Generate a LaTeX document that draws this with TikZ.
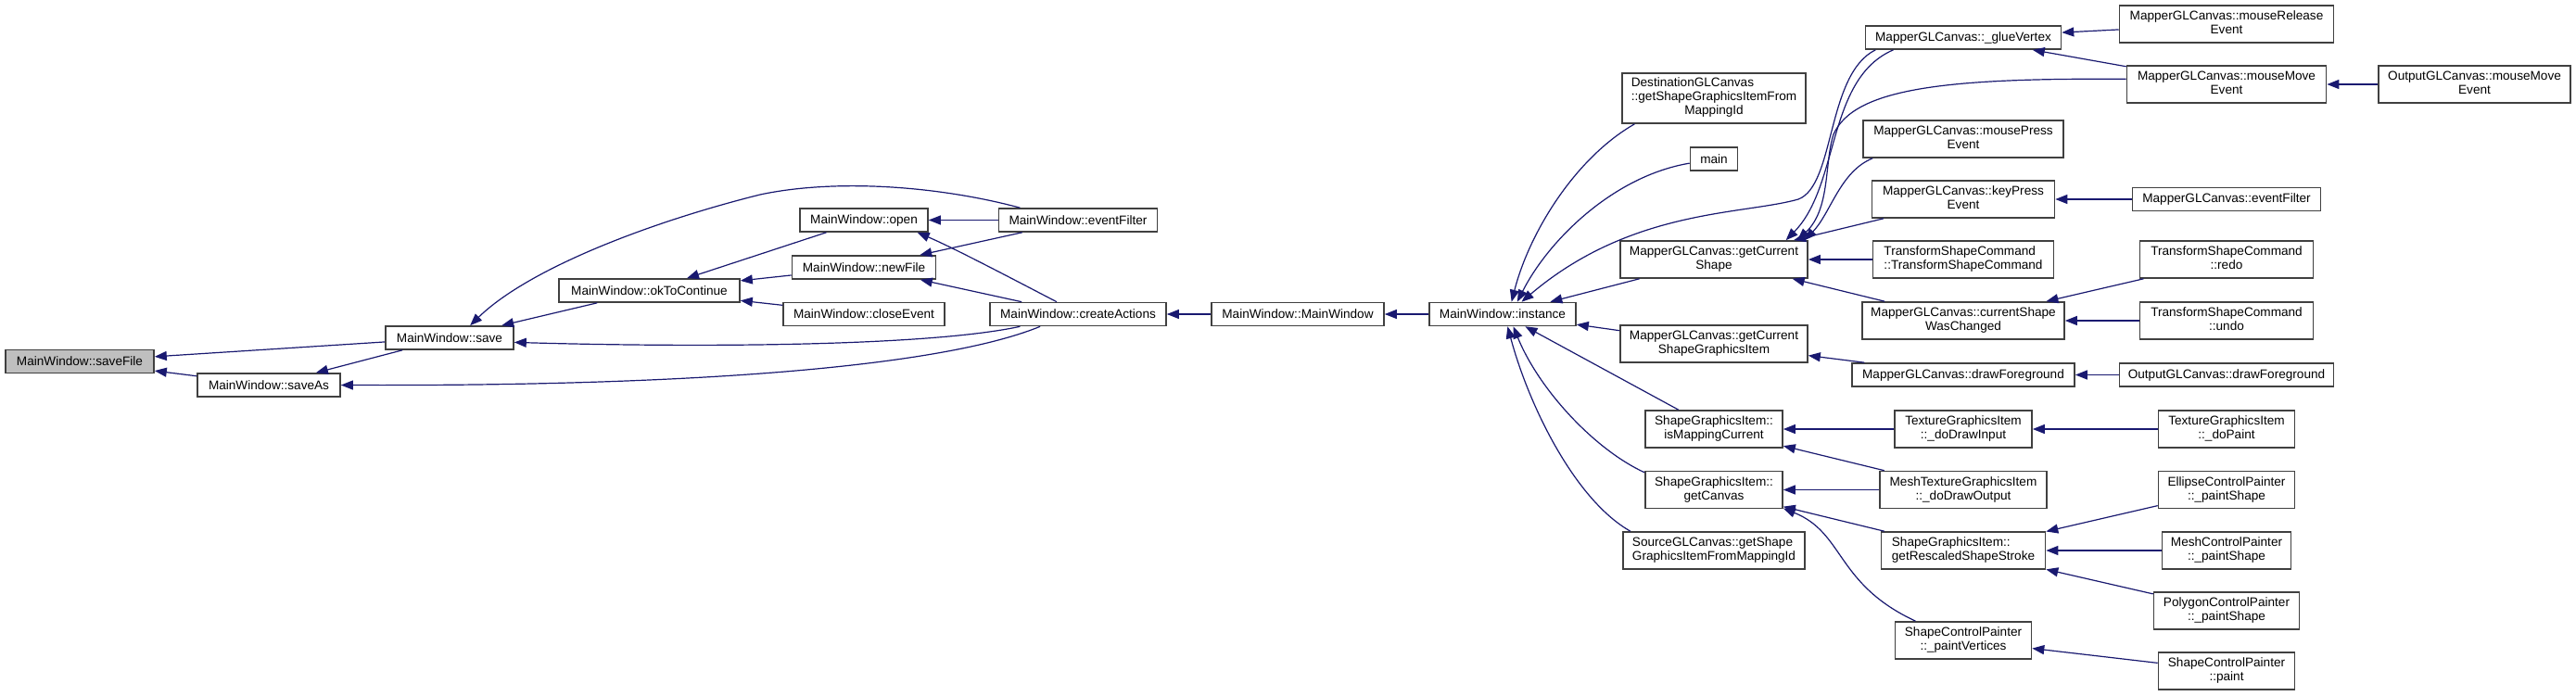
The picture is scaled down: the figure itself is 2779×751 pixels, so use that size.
\documentclass[tikz,border=0pt]{standalone}
\usepackage{fontspec}
\setmainfont{Liberation Sans}
\usetikzlibrary{arrows.meta}
\definecolor{edgeblue}{HTML}{191970}
\definecolor{boxline}{HTML}{404040}
\definecolor{rootfill}{HTML}{BFBFBF}
\newcommand{\fnlabel}[2]{\begin{tabular}{@{}l@{}}#1\\\multicolumn{1}{@{}c@{}}{#2}\end{tabular}}

\tikzset{
  funcbox/.style={draw=boxline, fill=white, line width=1.6pt, inner sep=0pt, minimum height=25pt},
  twobox/.style={funcbox, minimum height=40pt},
  rootbox/.style={funcbox, fill=rootfill},
  callarrow/.style={draw=edgeblue, line width=1.2pt, -{Triangle[length=13pt,width=10pt]}},
}

\begin{document}
\begin{tikzpicture}[x=1pt, y=-1pt, font=\fontsize{13.6}{15}\selectfont]

% Define columns
\def\colA{86}
\def\colB{290}
\def\colC{485}
\def\colD{700.5}
\def\colE{932}
\def\colF{1163}
\def\colG{1400}
\def\colH{1621}
\def\colI{1849}
\def\colJ{2118}
\def\colK{2402}
\def\colL{2669.5}

\path[fill=white, use as bounding box] (0,0) rectangle (2779,751);

% MainWindow part
\node[rootbox, minimum width=160pt] (saveFile) at (\colA, 390) {MainWindow::saveFile};
\node[funcbox, minimum width=154pt] (saveAs) at (\colB, 415.5) {MainWindow::saveAs};
\node[funcbox, minimum width=138pt] (save) at (\colC, 364.5) {MainWindow::save};
\node[funcbox, minimum width=195pt] (okToContinue) at (\colD, 313.5) {MainWindow::okToContinue};
\node[funcbox, minimum width=138pt] (open) at (\colE, 237.5) {MainWindow::open};
\node[funcbox, minimum width=155pt] (newFile) at (\colE, 288.5) {MainWindow::newFile};
\node[funcbox, minimum width=174pt] (closeEvent) at (\colE, 339) {MainWindow::closeEvent};
\node[funcbox, minimum width=171pt] (mwEventFilter) at (\colF, 237.5) {MainWindow::eventFilter};
\node[funcbox, minimum width=190pt] (createActions) at (\colF, 339) {MainWindow::createActions};
\node[funcbox, minimum width=186pt] (mainWindow) at (\colG, 339) {MainWindow::MainWindow};
\node[funcbox, minimum width=158pt] (instance) at (\colH, 339) {MainWindow::instance};

% Callers of instance
\node[funcbox, minimum width=198pt, minimum height=54pt] (destGetItem) at (\colI, 106) {\fnlabel{DestinationGLCanvas\\::getShapeGraphicsItemFrom}{MappingId}};
\node[funcbox, minimum width=51pt] (main) at (\colI, 171.5) {main};
\node[twobox, minimum width=202pt] (getCurrentShape) at (\colI, 280) {\fnlabel{MapperGLCanvas::getCurrent}{Shape}};
\node[twobox, minimum width=202pt] (getCurrentShapeItem) at (\colI, 371) {\fnlabel{MapperGLCanvas::getCurrent}{ShapeGraphicsItem}};
\node[twobox, minimum width=148pt] (isMappingCurrent) at (\colI, 463) {\fnlabel{ShapeGraphicsItem::}{isMappingCurrent}};
\node[twobox, minimum width=148pt] (getCanvas) at (\colI, 528.5) {\fnlabel{ShapeGraphicsItem::}{getCanvas}};
\node[twobox, minimum width=196pt] (srcGetItem) at (\colI, 594) {\fnlabel{SourceGLCanvas::getShape}{GraphicsItemFromMappingId}};

% Third level
\node[funcbox, minimum width=211pt] (glueVertex) at (\colJ, 40.5) {MapperGLCanvas::\_glueVertex};
\node[twobox, minimum width=216pt] (mousePress) at (\colJ, 150) {\fnlabel{MapperGLCanvas::mousePress}{Event}};
\node[twobox, minimum width=197pt] (keyPress) at (\colJ, 215) {\fnlabel{MapperGLCanvas::keyPress}{Event}};
\node[twobox, minimum width=195pt] (tscCtor) at (\colJ, 280) {\fnlabel{TransformShapeCommand}{::TransformShapeCommand}};
\node[twobox, minimum width=218pt] (currentShapeChanged) at (\colJ, 346) {\fnlabel{MapperGLCanvas::currentShape}{WasChanged}};
\node[funcbox, minimum width=240pt] (drawForeground) at (\colJ, 404.5) {MapperGLCanvas::drawForeground};
\node[twobox, minimum width=148pt] (doDrawInput) at (\colJ, 463) {\fnlabel{TextureGraphicsItem}{::\_doDrawInput}};
\node[twobox, minimum width=180pt] (doDrawOutput) at (\colJ, 528.5) {\fnlabel{MeshTextureGraphicsItem}{::\_doDrawOutput}};
\node[twobox, minimum width=177pt] (getRescaled) at (\colJ, 594) {\fnlabel{ShapeGraphicsItem::}{getRescaledShapeStroke}};
\node[twobox, minimum width=147pt] (paintVertices) at (\colJ, 691) {\fnlabel{ShapeControlPainter}{::\_paintVertices}};

% Fourth level
\node[twobox, minimum width=231pt] (mouseRelease) at (\colK, 26) {\fnlabel{MapperGLCanvas::mouseRelease}{Event}};
\node[twobox, minimum width=215pt] (mouseMove) at (\colK, 91) {\fnlabel{MapperGLCanvas::mouseMove}{Event}};
\node[funcbox, minimum width=203pt] (mapperEventFilter) at (\colK, 215) {MapperGLCanvas::eventFilter};
\node[twobox, minimum width=187pt] (redo) at (\colK, 280) {\fnlabel{TransformShapeCommand}{::redo}};
\node[twobox, minimum width=187pt] (undo) at (\colK, 346) {\fnlabel{TransformShapeCommand}{::undo}};
\node[funcbox, minimum width=231pt] (outDrawForeground) at (\colK, 404.5) {OutputGLCanvas::drawForeground};
\node[twobox, minimum width=147pt] (doPaint) at (\colK, 463) {\fnlabel{TextureGraphicsItem}{::\_doPaint}};
\node[twobox, minimum width=147pt] (ellipsePaint) at (\colK, 528.5) {\fnlabel{EllipseControlPainter}{::\_paintShape}};
\node[twobox, minimum width=139pt] (meshPaint) at (\colK, 594) {\fnlabel{MeshControlPainter}{::\_paintShape}};
\node[twobox, minimum width=157pt] (polygonPaint) at (\colK, 659) {\fnlabel{PolygonControlPainter}{::\_paintShape}};
\node[twobox, minimum width=147pt] (painterPaint) at (\colK, 724) {\fnlabel{ShapeControlPainter}{::paint}};
\node[twobox, minimum width=207pt] (outMouseMove) at (\colL, 91) {\fnlabel{OutputGLCanvas::mouseMove}{Event}};

% Calls into the MainWindow part
\draw[callarrow] (save) -- (saveFile);
\draw[callarrow] (saveAs) -- (saveFile);
\draw[callarrow] (save) -- (saveAs);
\draw[callarrow] (createActions.198) .. controls (1030,390) and (800,417) .. (saveAs.east);
\draw[callarrow] (okToContinue) -- (save);
\draw[callarrow] (mwEventFilter.168) .. controls (1010,200) and (900,193) .. (820,210) .. controls (700,240) and (570,290) .. (save.31);
\draw[callarrow] (createActions.192) .. controls (1000,374) and (750,375) .. (save.-4);
\draw[callarrow] (open) -- (okToContinue);
\draw[callarrow] (newFile) -- (okToContinue);
\draw[callarrow] (closeEvent) -- (okToContinue);
\draw[callarrow] (mwEventFilter) -- (open);
\draw[callarrow] (createActions.150) .. controls (1100,305) and (1030,268) .. (open.-13);
\draw[callarrow] (mwEventFilter) -- (newFile);
\draw[callarrow] (createActions) -- (newFile);
\draw[callarrow] (mainWindow) -- (createActions);
\draw[callarrow] (instance) -- (mainWindow);

% Calls into instance
\draw[callarrow] (destGetItem.198) .. controls (1700,170) and (1650,250) .. (instance.54);
\draw[callarrow] (main.190) .. controls (1740,190) and (1670,260) .. (instance.40);
\draw[callarrow] (glueVertex.188) .. controls (1970,80) and (1980,200) .. (1940,215) .. controls (1880,232) and (1760,225) .. (instance.33);
\draw[callarrow] (getCurrentShape) -- (instance);
\draw[callarrow] (getCurrentShapeItem) -- (instance);
\draw[callarrow] (isMappingCurrent) -- (instance);
\draw[callarrow] (getCanvas.166) .. controls (1720,485) and (1660,420) .. (instance.311);
\draw[callarrow] (srcGetItem.167) .. controls (1700,540) and (1650,440) .. (instance.292);

% Calls into getCurrentShape
\draw[callarrow] (glueVertex.190) .. controls (1970,85) and (1985,200) .. (getCurrentShape.15);
\draw[callarrow] (mouseMove.177) .. controls (2100,84) and (2000,95) .. (1978,145) .. controls (1968,175) and (1975,225) .. (getCurrentShape.13);
\draw[callarrow] (mousePress.192) .. controls (1985,185) and (1975,230) .. (getCurrentShape.12);
\draw[callarrow] (keyPress) -- (getCurrentShape);
\draw[callarrow] (tscCtor) -- (getCurrentShape);
\draw[callarrow] (currentShapeChanged) -- (getCurrentShape);

% Remaining calls
\draw[callarrow] (mouseRelease) -- (glueVertex);
\draw[callarrow] (mouseMove) -- (glueVertex);
\draw[callarrow] (outMouseMove) -- (mouseMove);
\draw[callarrow] (mapperEventFilter) -- (keyPress);
\draw[callarrow] (redo) -- (currentShapeChanged);
\draw[callarrow] (undo) -- (currentShapeChanged);
\draw[callarrow] (drawForeground) -- (getCurrentShapeItem);
\draw[callarrow] (outDrawForeground) -- (drawForeground);
\draw[callarrow] (doDrawInput) -- (isMappingCurrent);
\draw[callarrow] (doPaint) -- (doDrawInput);
\draw[callarrow] (doDrawOutput) -- (isMappingCurrent);
\draw[callarrow] (doDrawOutput) -- (getCanvas);
\draw[callarrow] (getRescaled) -- (getCanvas);
\draw[callarrow] (paintVertices.158) .. controls (1980,630) and (1990,575) .. (getCanvas.-15);
\draw[callarrow] (ellipsePaint) -- (getRescaled);
\draw[callarrow] (meshPaint) -- (getRescaled);
\draw[callarrow] (polygonPaint) -- (getRescaled);
\draw[callarrow] (painterPaint) -- (paintVertices);
\end{tikzpicture}
\end{document}
